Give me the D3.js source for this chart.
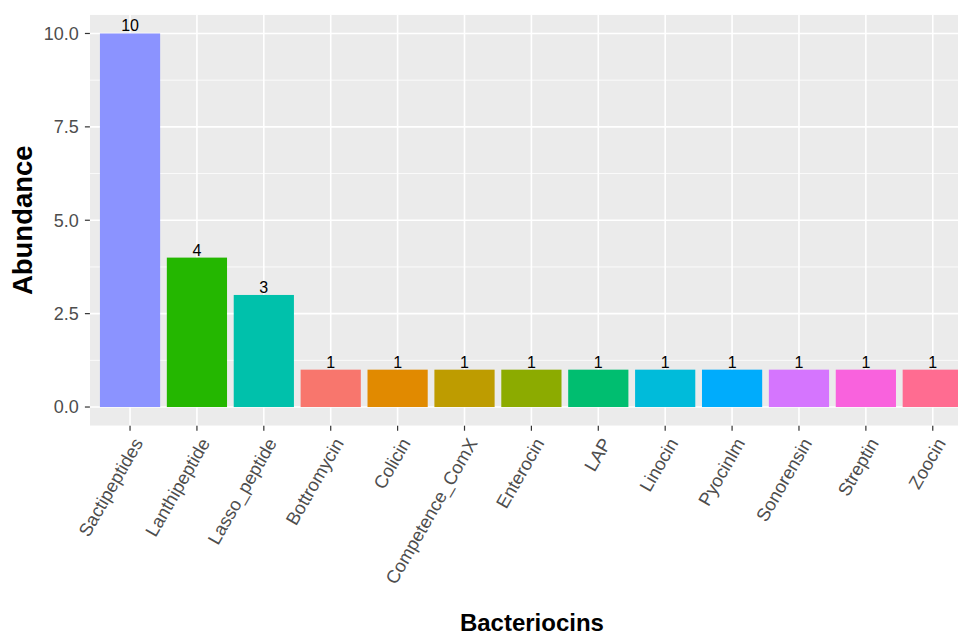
<!DOCTYPE html>
<html>
<head>
<meta charset="utf-8">
<script src="https://cdn.jsdelivr.net/npm/d3@7"></script>
<style>
  html, body { margin: 0; padding: 0; background: #fff; }
  svg { display: block; font-family: "Liberation Sans", Arial, sans-serif; }
</style>
</head>
<body>
<svg id="chart" width="958" height="636"></svg>
<script>
// Data
const categories = ["Sactipeptides", "Lanthipeptide", "Lasso_peptide", "Bottromycin", "Colicin",
  "Competence_ComX", "Enterocin", "LAP", "Linocin", "Pyocinlm", "Sonorensin", "Streptin", "Zoocin"];
const abundance = [10, 4, 3, 1, 1, 1, 1, 1, 1, 1, 1, 1, 1];
const barColors = ["#8B93FF", "#24B700", "#00C1AB", "#F8766D", "#E18A00", "#BE9C00", "#8CAB00",
  "#00BE70", "#00BBDA", "#00ACFC", "#D575FE", "#F962DD", "#FF6C91"];
const yTicks = [0, 2.5, 5, 7.5, 10];
const yMinor = [1.25, 3.75, 6.25, 8.75];

const svg = d3.select("#chart");
const W = 958, H = 636;
const panel = { left: 89.9, right: 972.9, top: 14.8, bottom: 425.7 };

const x = d3.scaleBand().domain(categories)
  .range([panel.left, panel.right]).paddingInner(0.1).paddingOuter(0.15);
const y = d3.scaleLinear().domain([-0.5, 10.5]).range([panel.bottom, panel.top]);

const clip = svg.append("defs").append("clipPath").attr("id", "pclip");
clip.append("rect").attr("x", panel.left).attr("y", panel.top)
  .attr("width", panel.right - panel.left).attr("height", panel.bottom - panel.top);

const g = svg.append("g").attr("clip-path", "url(#pclip)");
g.append("rect").attr("x", panel.left).attr("y", panel.top)
  .attr("width", panel.right - panel.left).attr("height", panel.bottom - panel.top)
  .attr("fill", "#EBEBEB");

// minor grid
g.selectAll(".ymin").data(yMinor).enter().append("line")
  .attr("x1", panel.left).attr("x2", panel.right)
  .attr("y1", d => y(d)).attr("y2", d => y(d))
  .attr("stroke", "#fff").attr("stroke-width", 0.8);
// major grid
g.selectAll(".ymaj").data(yTicks).enter().append("line")
  .attr("x1", panel.left).attr("x2", panel.right)
  .attr("y1", d => y(d)).attr("y2", d => y(d))
  .attr("stroke", "#fff").attr("stroke-width", 1.6);
g.selectAll(".xmaj").data(categories).enter().append("line")
  .attr("x1", d => x(d) + x.bandwidth() / 2).attr("x2", d => x(d) + x.bandwidth() / 2)
  .attr("y1", panel.top).attr("y2", panel.bottom)
  .attr("stroke", "#fff").attr("stroke-width", 1.6);

// bars
g.selectAll(".bar").data(categories).enter().append("rect")
  .attr("x", d => x(d)).attr("width", x.bandwidth())
  .attr("y", (d, i) => y(abundance[i]))
  .attr("height", (d, i) => y(0) - y(abundance[i]))
  .attr("fill", (d, i) => barColors[i]);

// value labels
g.selectAll(".vl").data(categories).enter().append("text")
  .attr("x", d => x(d) + x.bandwidth() / 2)
  .attr("y", (d, i) => y(abundance[i]) - 2)
  .attr("text-anchor", "middle")
  .attr("font-size", "16px")
  .attr("fill", "#000")
  .text((d, i) => abundance[i]);

// y axis
const yAxis = svg.append("g");
yAxis.selectAll(".yt").data(yTicks).enter().append("line")
  .attr("x1", panel.left - 5).attr("x2", panel.left)
  .attr("y1", d => y(d)).attr("y2", d => y(d))
  .attr("stroke", "#333").attr("stroke-width", 1.2);
yAxis.selectAll(".yl").data(yTicks).enter().append("text")
  .attr("x", panel.left - 11).attr("y", d => y(d))
  .attr("dy", "0.35em").attr("text-anchor", "end")
  .attr("font-size", "18px").attr("fill", "#4D4D4D")
  .text(d => d3.format(".1f")(d));

// x axis
const xAxis = svg.append("g");
xAxis.selectAll(".xt").data(categories).enter().append("line")
  .attr("x1", d => x(d) + x.bandwidth() / 2).attr("x2", d => x(d) + x.bandwidth() / 2)
  .attr("y1", panel.bottom).attr("y2", panel.bottom + 5)
  .attr("stroke", "#333").attr("stroke-width", 1.2);
xAxis.selectAll(".xl").data(categories).enter().append("text")
  .attr("transform", d => `translate(${x(d) + x.bandwidth() / 2 + 8},${panel.bottom + 14}) rotate(-60)`)
  .attr("dy", "0.35em").attr("text-anchor", "end")
  .attr("font-size", "18.3px").attr("fill", "#4D4D4D")
  .text(d => d);

// titles
svg.append("text")
  .attr("transform", `translate(32,${(panel.top + panel.bottom) / 2}) rotate(-90)`)
  .attr("text-anchor", "middle").attr("font-size", "27.5px").attr("font-weight", "bold")
  .attr("fill", "#000").text("Abundance");
svg.append("text")
  .attr("x", (panel.left + W) / 2 + 8).attr("y", 631)
  .attr("text-anchor", "middle").attr("font-size", "24px").attr("font-weight", "bold")
  .attr("fill", "#000").text("Bacteriocins");
</script>
</body>
</html>
